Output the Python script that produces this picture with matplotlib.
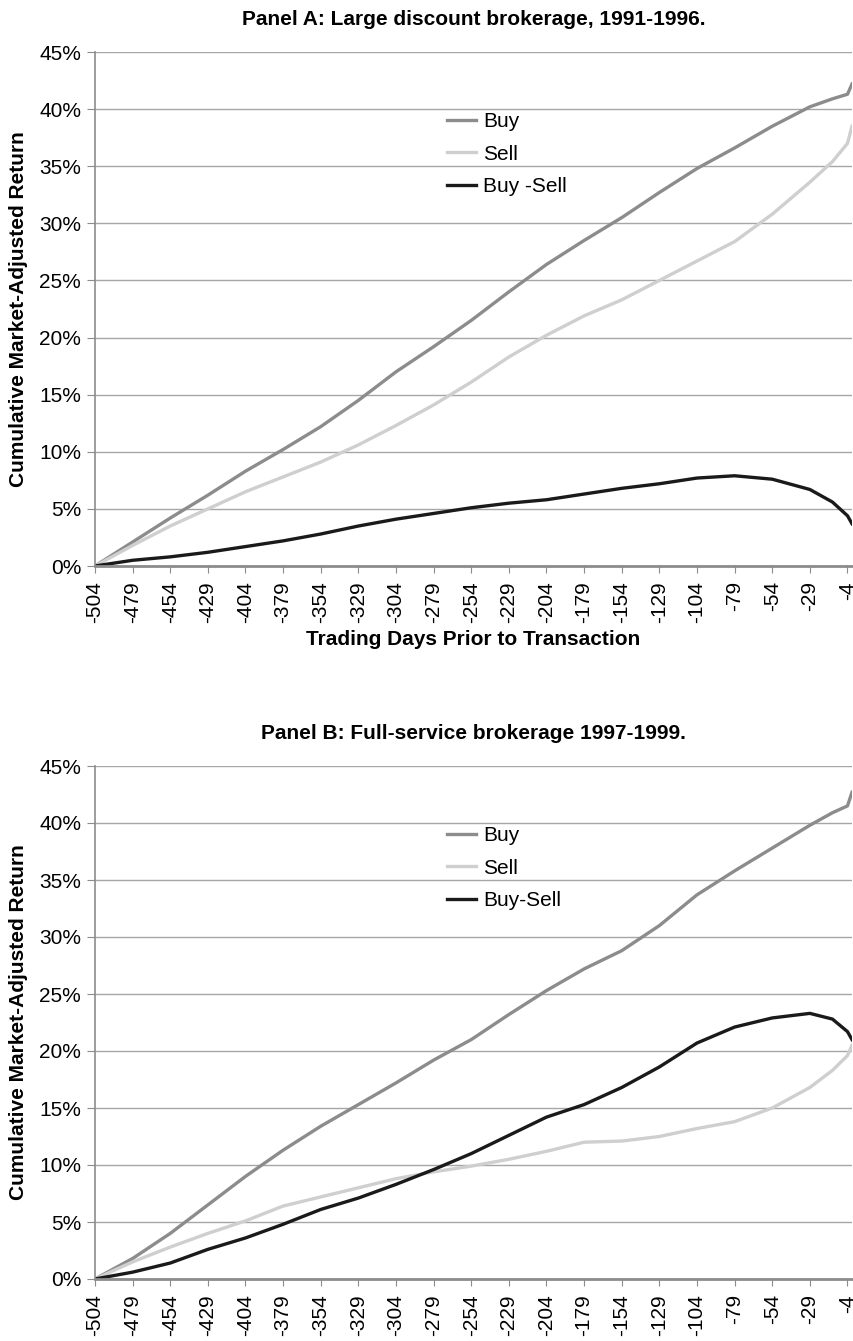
import numpy as np
import matplotlib.pyplot as plt
from matplotlib.ticker import FuncFormatter

plt.rcParams['font.family'] = ['Liberation Sans', 'DejaVu Sans']

# days prior to transaction, sampled every 25 days plus the last few
days = [-504, -479, -454, -429, -404, -379, -354, -329, -304, -279, -254,
        -229, -204, -179, -154, -129, -104, -79, -54, -29, -14, -4, -1]

# Panel A: large discount brokerage (percent)
buy_a = [0.0, 2.1, 4.2, 6.2, 8.3, 10.2, 12.2, 14.5, 17.0, 19.2, 21.5,
         24.0, 26.4, 28.5, 30.5, 32.7, 34.8, 36.6, 38.5, 40.2, 40.9, 41.3, 42.2]
sell_a = [0.0, 1.8, 3.5, 5.0, 6.5, 7.8, 9.1, 10.6, 12.3, 14.1, 16.1,
          18.3, 20.2, 21.9, 23.3, 25.0, 26.7, 28.4, 30.8, 33.6, 35.4, 37.0, 38.5]
diff_a = [0.0, 0.5, 0.8, 1.2, 1.7, 2.2, 2.8, 3.5, 4.1, 4.6, 5.1,
          5.5, 5.8, 6.3, 6.8, 7.2, 7.7, 7.9, 7.6, 6.7, 5.6, 4.4, 3.7]

# Panel B: full-service brokerage (percent)
buy_b = [0.0, 1.8, 4.0, 6.5, 9.0, 11.3, 13.4, 15.3, 17.2, 19.2, 21.0,
         23.2, 25.3, 27.2, 28.8, 31.0, 33.7, 35.8, 37.8, 39.8, 40.9, 41.5, 42.7]
sell_b = [0.0, 1.5, 2.8, 4.0, 5.1, 6.4, 7.2, 8.0, 8.8, 9.4, 9.9,
          10.5, 11.2, 12.0, 12.1, 12.5, 13.2, 13.8, 15.0, 16.8, 18.3, 19.6, 20.5]
diff_b = [0.0, 0.6, 1.4, 2.6, 3.6, 4.8, 6.1, 7.1, 8.3, 9.6, 11.0,
          12.6, 14.2, 15.3, 16.8, 18.6, 20.7, 22.1, 22.9, 23.3, 22.8, 21.7, 21.0]

panels = [
    ("Panel A: Large discount brokerage, 1991-1996.", buy_a, sell_a, diff_a, "Buy -Sell", True),
    ("Panel B: Full-service brokerage 1997-1999.", buy_b, sell_b, diff_b, "Buy-Sell", False),
]

W, H = 854, 1341
fig = plt.figure(figsize=(W / 100, H / 100), dpi=100)

boxes = [(95, 52, 852, 566), (95, 766, 852, 1279)]
tick_days = list(range(-504, 0, 25))

for (title, buy, sell, diff, dlabel, show_xlabel), (x0, y0, x1, y1) in zip(panels, boxes):
    ax = fig.add_axes([x0 / W, 1 - y1 / H, (x1 - x0) / W, (y1 - y0) / H])
    ax.plot(days, buy, color='#8c8c8c', lw=2.4, label='Buy')
    ax.plot(days, sell, color='#cfcfcf', lw=2.4, label='Sell')
    ax.plot(days, diff, color='#1a1a1a', lw=2.4, label=dlabel)

    ax.set_xlim(-504, -1)
    ax.set_ylim(0, 45)
    ax.set_yticks(np.arange(0, 46, 5))
    ax.yaxis.set_major_formatter(FuncFormatter(lambda v, p: f"{v:.0f}%"))
    ax.set_xticks(tick_days)
    ax.set_xticklabels([str(d) for d in tick_days], rotation=90)
    ax.grid(axis='y', color='#a6a6a6', lw=1.0)
    ax.set_axisbelow(True)
    for s in ['top', 'right']:
        ax.spines[s].set_visible(False)
    ax.spines['left'].set_color('#8c8c8c')
    ax.spines['left'].set_linewidth(1.2)
    ax.spines['bottom'].set_color('#8c8c8c')
    ax.spines['bottom'].set_linewidth(2.0)
    ax.tick_params(axis='x', length=5, color='#8c8c8c', labelsize=15, pad=6)
    ax.tick_params(axis='y', length=6, color='#8c8c8c', labelsize=15, pad=4)

    ax.set_title(title, fontsize=15, fontweight='bold', pad=19.5)
    ax.set_ylabel("Cumulative Market-Adjusted Return", fontsize=15,
                  fontweight='bold', labelpad=8)
    if show_xlabel:
        ax.set_xlabel("Trading Days Prior to Transaction", fontsize=15,
                      fontweight='bold', labelpad=5)

    ax.legend(loc='upper left', bbox_to_anchor=(0.454, 0.899), frameon=False,
              fontsize=15, handlelength=1.4, handletextpad=0.35,
              labelspacing=0.65, borderaxespad=0)

fig.savefig("out.png", dpi=100)
